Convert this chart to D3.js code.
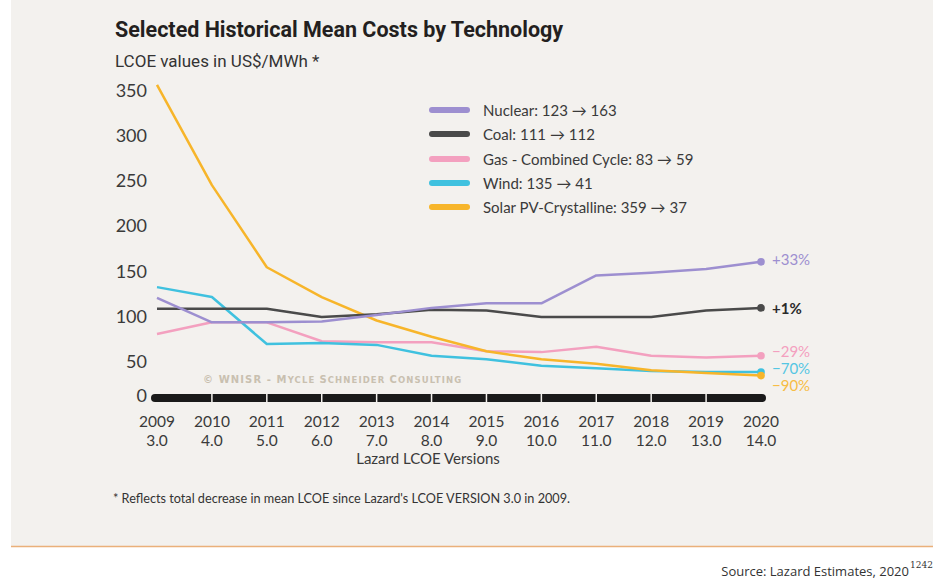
<!DOCTYPE html>
<html><head><meta charset="utf-8">
<script src="https://cdn.jsdelivr.net/npm/d3@7"></script>
<style>
html,body{margin:0;padding:0;background:#fff;}
svg{display:block;}
</style></head>
<body>
<svg id="chart" width="940" height="588"></svg>
<script>
const years = ["2009","2010","2011","2012","2013","2014","2015","2016","2017","2018","2019","2020"];
const versions = ["3.0","4.0","5.0","6.0","7.0","8.0","9.0","10.0","11.0","12.0","13.0","14.0"];
const nuclear = [123, 96, 96, 97, 104, 112, 117, 117, 148, 151, 155, 163];
const coal    = [111, 111, 111, 102, 105, 110, 109, 102, 102, 102, 109, 112];
const gas     = [83, 96, 96, 75, 74, 74, 64, 63, 69, 59, 57, 59];
const wind    = [135, 124, 72, 73, 71, 59, 55, 48, 45, 42, 41, 41];
const solar   = [359, 248, 157, 124, 98, 80, 64, 55, 50, 43, 40, 37];
const yTicks  = [0, 50, 100, 150, 200, 250, 300, 350];
const seriesNames = ["Nuclear: 123 \u2192 163","Coal: 111 \u2192 112","Gas - Combined Cycle: 83 \u2192 59","Wind: 135 \u2192 41","Solar PV-Crystalline: 359 \u2192 37"];
const changeLabels = ["+33%","+1%","\u221229%","\u221270%","\u221290%"];
const colors = ["#9d8fd0","#4a4a4a","#f3a0bf","#3fc1df","#f7b52a"];
const labelColors = ["#9d8fd0","#2a2a2a","#f3a0bf","#55c6e3","#f7bd45"];
const seriesData = [nuclear, coal, gas, wind, solar];

const svg = d3.select("#chart");
const bg = "#f3f1ee";
svg.append("rect").attr("x",11).attr("y",0).attr("width",922).attr("height",546).attr("fill",bg);
svg.append("line").attr("x1",11).attr("x2",933).attr("y1",546.5).attr("y2",546.5).attr("stroke","#eab07a").attr("stroke-width",1.5);

const x = d3.scalePoint().domain(years).range([157, 761]);
const y = d3.scaleLinear().domain([0, 350]).range([409, 93]);
const axisY = y(0) - 11;

// title
svg.append("text").attr("x",115).attr("y",37).text("Selected Historical Mean Costs by Technology")
  .attr("font-family","Roboto, 'Open Sans', sans-serif").attr("font-weight",700).attr("font-size",21.5).attr("fill","#231f20");
svg.append("text").attr("x",115).attr("y",67).text("LCOE values in US$/MWh *")
  .attr("font-family","Roboto, sans-serif").attr("font-weight",400).attr("font-size",17).attr("fill","#333");

// y tick labels
const fontLbl = "Lato, 'Open Sans', sans-serif";
svg.append("g").selectAll("text").data(yTicks).join("text")
  .attr("x",147).attr("y",d => d===0 ? axisY - 3 : y(d) - 3)
  .attr("text-anchor","end").attr("dominant-baseline","central")
  .attr("font-family",fontLbl).attr("font-size",18).attr("fill","#3a3a3a").text(d=>d);

// watermark (small caps)
const wm = svg.append("text").attr("x",203).attr("y",383)
  .attr("font-family","'DejaVu Sans', sans-serif").attr("font-weight",700)
  .attr("fill","#c9c0b0").attr("letter-spacing",1.1);
[["\u00A9 WNISR - M",10],["YCLE ",8.5],["S",10],["CHNEIDER ",8.5],["C",10],["ONSULTING",8.5]].forEach(([t,s])=>{
  wm.append("tspan").attr("font-size",s).text(t);
});

// axis bar
svg.append("line").attr("x1",x(years[0])-2).attr("x2",x(years[years.length-1])+1)
  .attr("y1",axisY).attr("y2",axisY).attr("stroke","#1a1a1a").attr("stroke-width",8).attr("stroke-linecap","round");
svg.append("g").selectAll("line").data(years.slice(1,-1)).join("line")
  .attr("x1",d=>x(d)).attr("x2",d=>x(d)).attr("y1",axisY-5).attr("y2",axisY+5)
  .attr("stroke",bg).attr("stroke-width",1.5);

// x labels
const xl = svg.append("g");
xl.selectAll("text.yr").data(years).join("text").attr("class","yr")
  .attr("x",d=>x(d)).attr("y",427).attr("text-anchor","middle")
  .attr("font-family",fontLbl).attr("font-size",15.5).attr("fill","#3a3a3a").text(d=>d);
xl.selectAll("text.vr").data(versions).join("text").attr("class","vr")
  .attr("x",(d,i)=>x(years[i])).attr("y",445.5).attr("text-anchor","middle")
  .attr("font-family",fontLbl).attr("font-size",15.5).attr("fill","#3a3a3a").text(d=>d);
svg.append("text").attr("x",428).attr("y",464).attr("text-anchor","middle")
  .attr("font-family",fontLbl).attr("font-size",15).attr("fill","#3a3a3a").text("Lazard LCOE Versions");

// lines
const line = d3.line().x((d,i)=>x(years[i])).y(d=>y(d));
const order = [2,3,4,1,0];
svg.append("g").selectAll("path").data(order).join("path")
  .attr("d",k=>line(seriesData[k])).attr("fill","none").attr("stroke",k=>colors[k])
  .attr("stroke-width",2.5).attr("stroke-linejoin","round");
svg.append("g").selectAll("circle").data(order).join("circle")
  .attr("cx",x(years[years.length-1])).attr("cy",k=>y(seriesData[k][seriesData[k].length-1]))
  .attr("r",3.8).attr("fill",k=>colors[k]);

// end labels
const endY = [259, 308, 351, 368, 385];
svg.append("g").selectAll("text").data(changeLabels).join("text")
  .attr("x",772).attr("y",(d,i)=>endY[i]).attr("dominant-baseline","central")
  .attr("font-family",fontLbl).attr("font-size",15).attr("font-weight",(d,i)=>i===1?700:400)
  .attr("fill",(d,i)=>labelColors[i]).text(d=>d);

// legend
const leg = svg.append("g");
const legY = [110, 134, 159, 183, 207];
leg.selectAll("line").data(seriesNames).join("line")
  .attr("x1",432).attr("x2",467).attr("y1",(d,i)=>legY[i]).attr("y2",(d,i)=>legY[i])
  .attr("stroke",(d,i)=>colors[i]).attr("stroke-width",6).attr("stroke-linecap","round");
leg.selectAll("text").data(seriesNames).join("text")
  .attr("x",483).attr("y",(d,i)=>legY[i]).attr("dominant-baseline","central")
  .attr("font-family",fontLbl).attr("font-size",15).attr("fill","#3a3a3a").text(d=>d);

// footnote
svg.append("text").attr("x",113).attr("y",503)
  .attr("font-family",fontLbl).attr("font-size",13.5).attr("fill","#333")
  .attr("textLength",457).attr("lengthAdjust","spacingAndGlyphs")
  .text("* Reflects total decrease in mean LCOE since Lazard's  LCOE VERSION 3.0 in 2009.");

// source
svg.append("text").attr("x",909).attr("y",576).attr("text-anchor","end")
  .attr("font-family","'Open Sans', sans-serif").attr("font-size",13).attr("fill","#333")
  .text("Source: Lazard Estimates, 2020");
svg.append("text").attr("x",910).attr("y",568).attr("font-family","'DejaVu Serif', serif").attr("font-size",9).attr("fill","#333").text("1242");
</script>
</body></html>
